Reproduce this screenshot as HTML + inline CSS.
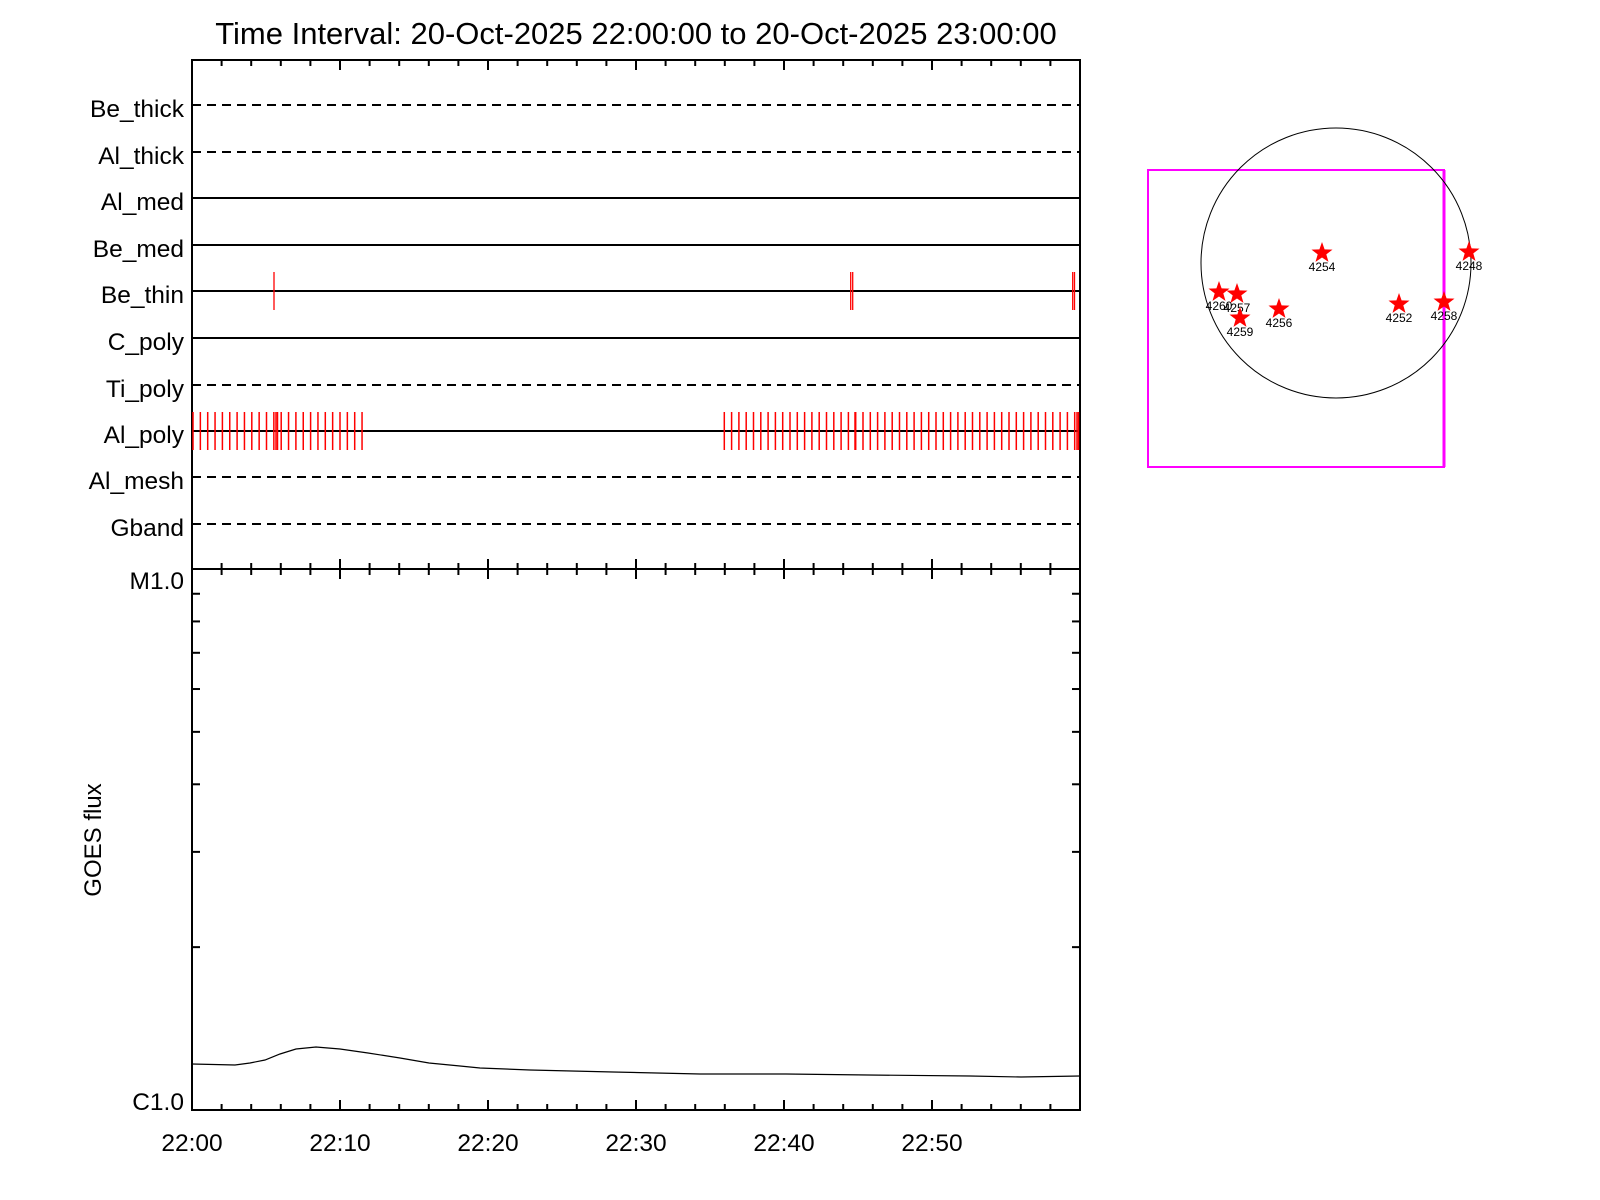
<!DOCTYPE html>
<html><head><meta charset="utf-8"><style>body{margin:0;background:#fff}svg{display:block}text{font-family:"Liberation Sans",sans-serif;fill:#000}</style></head><body>
<svg width="1600" height="1200" xmlns="http://www.w3.org/2000/svg">
<text x="636" y="44" font-size="31" text-anchor="middle">Time Interval: 20-Oct-2025 22:00:00 to 20-Oct-2025 23:00:00</text>
<g stroke="#000" stroke-width="2" fill="none">
<rect x="192" y="60" width="888" height="1050"/>
<line x1="192" y1="569" x2="1080" y2="569"/>
<g stroke-dasharray="9,6">
<line x1="192" y1="105" x2="1080" y2="105"/>
<line x1="192" y1="152" x2="1080" y2="152"/>
<line x1="192" y1="385" x2="1080" y2="385"/>
<line x1="192" y1="477" x2="1080" y2="477"/>
<line x1="192" y1="524" x2="1080" y2="524"/>
</g>
<line x1="192" y1="198" x2="1080" y2="198"/>
<line x1="192" y1="245" x2="1080" y2="245"/>
<line x1="192" y1="291" x2="1080" y2="291"/>
<line x1="192" y1="338" x2="1080" y2="338"/>
<line x1="192" y1="431" x2="1080" y2="431"/>
</g>
<g font-size="24.5" text-anchor="end">
<text x="184" y="117">Be_thick</text>
<text x="184" y="164">Al_thick</text>
<text x="184" y="210">Al_med</text>
<text x="184" y="257">Be_med</text>
<text x="184" y="303">Be_thin</text>
<text x="184" y="350">C_poly</text>
<text x="184" y="397">Ti_poly</text>
<text x="184" y="443">Al_poly</text>
<text x="184" y="489">Al_mesh</text>
<text x="184" y="536">Gband</text>
</g>
<g id="ticks" stroke="#000" stroke-width="2"></g>
<g id="red" stroke="#f00" stroke-width="1.5"></g>
<g stroke="#f00" stroke-width="1.3">
<line x1="274" y1="272" x2="274" y2="310"/>
<line x1="850.7" y1="272" x2="850.7" y2="310"/><line x1="852.7" y1="272" x2="852.7" y2="310"/>
<line x1="1072.7" y1="272" x2="1072.7" y2="310"/><line x1="1074.5" y1="272" x2="1074.5" y2="310"/>
</g>
<text x="184" y="589" font-size="24.5" text-anchor="end">M1.0</text>
<text x="184" y="1110" font-size="24.5" text-anchor="end">C1.0</text>
<text transform="translate(101,840) rotate(-90)" font-size="24" text-anchor="middle">GOES flux</text>
<g font-size="24.5" text-anchor="middle">
<text x="192" y="1151">22:00</text><text x="340" y="1151">22:10</text><text x="488" y="1151">22:20</text>
<text x="636" y="1151">22:30</text><text x="784" y="1151">22:40</text><text x="932" y="1151">22:50</text>
</g>
<path d="M192,1064 L235,1065 L250,1063 L265,1060 L280,1054 L296,1049 L316,1047 L340,1049 L368,1053 L400,1058 L429,1063 L460,1066 L480,1068 L530,1070 L613,1072 L700,1074 L786,1074 L868,1075 L970,1076 L1021,1077 L1080,1076" stroke="#000" stroke-width="1.2" fill="none"/>
<rect x="1148" y="170" width="296" height="297" stroke="#f0f" stroke-width="2" fill="none"/>
<line x1="1444" y1="170" x2="1444" y2="467" stroke="#f0f" stroke-width="3"/>
<circle cx="1336" cy="263" r="135" stroke="#000" stroke-width="1" fill="none"/>
<g id="stars"></g>
</svg>
<script>
const ns="http://www.w3.org/2000/svg";
function L(g,x1,y1,x2,y2){const l=document.createElementNS(ns,"line");l.setAttribute("x1",x1);l.setAttribute("y1",y1);l.setAttribute("x2",x2);l.setAttribute("y2",y2);g.appendChild(l);}
const t=document.getElementById("ticks");
for(let i=0;i<=30;i++){const x=192+i*888/30;const maj=i%5==0;const h=maj?10:6;
L(t,x,60,x,60+h);L(t,x,569-h,x,569+h);L(t,x,1110,x,1110-h);}
for(let k=2;k<=9;k++){const y=1110-541*Math.log10(k);L(t,192,y,200,y);L(t,1080,y,1072,y);}
const r=document.getElementById("red");
for(let i=0;i<24;i++){const x=193+i*7.35;L(r,x,412,x,450);}
L(r,276,412,276,450);L(r,277.5,412,277.5,450);
for(let x=724.3;x<1078;x+=7.3){L(r,x,412,x,450);}
L(r,855,412,855,450);L(r,1077,412,1077,450);L(r,1078.5,412,1078.5,450);
const s=document.getElementById("stars");
const st=[[1322,253,"4254"],[1469,252,"4248"],[1219,292,"4260"],[1237,294,"4257"],[1240,318,"4259"],[1279,309,"4256"],[1399,304,"4252"],[1444,302,"4258"]];
for(const [x,y,n] of st){let p="";for(let i=0;i<10;i++){const a=-Math.PI/2+i*Math.PI/5;const R=i%2?4.5:11;p+=(x+R*Math.cos(a)).toFixed(1)+","+(y+R*Math.sin(a)).toFixed(1)+" ";}
const pg=document.createElementNS(ns,"polygon");pg.setAttribute("points",p);pg.setAttribute("fill","#f00");s.appendChild(pg);
const tx=document.createElementNS(ns,"text");tx.setAttribute("x",x);tx.setAttribute("y",y+18);tx.setAttribute("font-size","12");tx.setAttribute("text-anchor","middle");tx.textContent=n;s.appendChild(tx);}
</script>
</body></html>
